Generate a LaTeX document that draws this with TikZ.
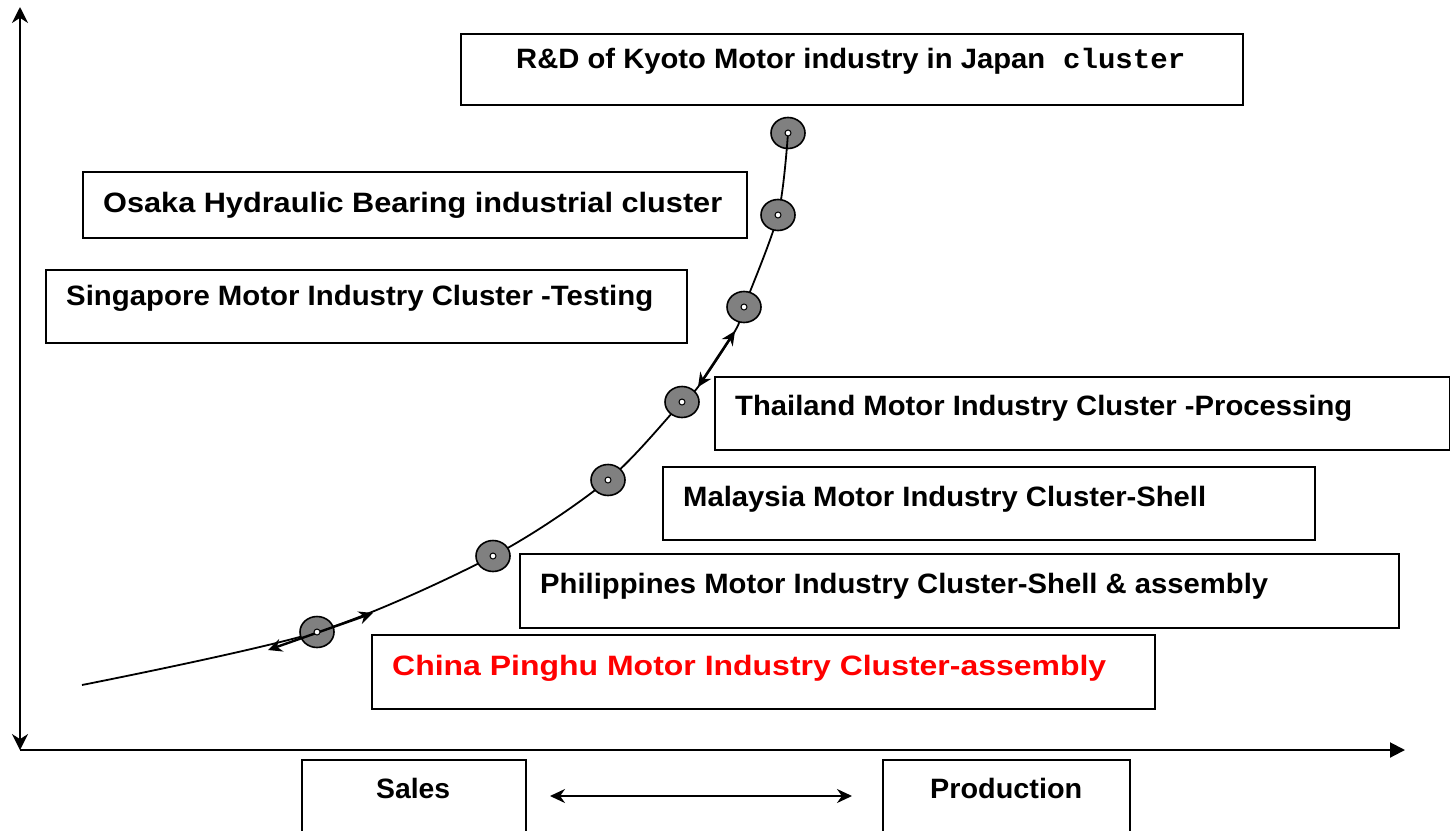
\documentclass[tikz,border=0pt]{standalone}
\usepackage{fontspec}
\setmainfont{Liberation Sans}
\newfontfamily\mymono{Liberation Mono}
\usepackage{graphicx}
\usetikzlibrary{arrows.meta,calc,shapes.geometric}
\begin{document}
\begin{tikzpicture}[x=1pt,y=-1pt,
  box/.style={draw,line width=2pt,rectangle,inner sep=0pt,anchor=north west},
  lbl/.style={anchor=base west,inner sep=0pt,font=\fontsize{28}{32}\selectfont\bfseries},
  dot/.style={ellipse,draw,line width=1.6pt,fill=gray,minimum width=34pt,minimum height=31pt,inner sep=0pt},
  hole/.style={circle,draw,fill=white,line width=1pt,minimum size=6pt,inner sep=0pt},
  axis/.style={line width=2pt},
  flow/.style={line width=2.4pt,{Stealth[length=14pt,width=13pt]}-{Stealth[length=14pt,width=13pt]}}]
\useasboundingbox (0,0) rectangle (1450,830);
\clip (0,0) rectangle (1450,830);
% axes
\coordinate (O) at (20,750);
\coordinate (ytop) at (20,7);
\coordinate (xend) at (1405,750);
\draw[axis,{Stealth[length=16pt,width=16pt]}-{Stealth[length=16pt,width=16pt]}] (O) -- (ytop);
\draw[axis,-{Triangle[length=15pt,width=15pt]}] (O) -- (xend);
% boxes
\node[box,minimum width=782pt,minimum height=71pt] (rd) at (460,33) {};
\node[box,minimum width=664pt,minimum height=66pt] (osaka) at (82,171) {};
\node[box,minimum width=641pt,minimum height=73pt] (sing) at (45,269) {};
\node[box,minimum width=735pt,minimum height=73pt] (thai) at (714,376) {};
\node[box,minimum width=652pt,minimum height=73pt] (malay) at (662,466) {};
\node[box,minimum width=879pt,minimum height=74pt] (phil) at (519,553) {};
\node[box,minimum width=783pt,minimum height=74pt] (china) at (371,634) {};
\node[box,minimum width=224pt,minimum height=90pt] (sales) at (301,759) {};
\node[box,minimum width=247pt,minimum height=90pt] (prod) at (882,759) {};
% labels
\node[lbl] (trd) at (516,68) {\resizebox{529pt}{\height}{R\&D of Kyoto Motor industry in Japan}};
\node[lbl] (trd2) at (1063,68) {\resizebox{122pt}{\height}{\mymono\bfseries cluster}};
\node[lbl] (tosaka) at (103,212) {\resizebox{619pt}{\height}{Osaka Hydraulic Bearing industrial cluster}};
\node[lbl] (tsing) at (66,305) {\resizebox{587pt}{\height}{Singapore Motor Industry Cluster -Testing}};
\node[lbl] (tthai) at (735,415) {\resizebox{617pt}{\height}{Thailand Motor Industry Cluster -Processing}};
\node[lbl] (tmalay) at (683,506) {\resizebox{523pt}{\height}{Malaysia Motor Industry Cluster-Shell}};
\node[lbl] (tphil) at (540,593) {\resizebox{728pt}{\height}{Philippines Motor Industry Cluster-Shell \& assembly}};
\node[lbl,text=red] (tchina) at (392,675) {\resizebox{714pt}{\height}{China Pinghu Motor Industry Cluster-assembly}};
\node[lbl] (tsales) at (376,798) {\resizebox{74pt}{\height}{Sales}};
\node[lbl] (tprod) at (930,798) {\resizebox{152pt}{\height}{Production}};
% sales <-> production
\coordinate (sp1) at (550,796);
\coordinate (sp2) at (852,796);
\draw[line width=2pt,{Stealth[length=15pt,width=14pt]}-{Stealth[length=15pt,width=14pt]}] (sp1) -- (sp2);
% curve
\node[dot] (e7) at (788,133) {};
\coordinate (s) at (82,685);
\coordinate (c1) at (317,632);
\coordinate (c2) at (493,556);
\coordinate (c3) at (608,480);
\coordinate (c4) at (682,402);
\coordinate (c5) at (744,307);
\coordinate (c6) at (778,215);
\coordinate (a1) at (268,650);
\coordinate (a2) at (373,613);
\coordinate (a3) at (698,387);
\coordinate (a4) at (735,331);
\draw[line width=1.8pt] plot[smooth,tension=0.5] coordinates {(s) (c1) (c2) (c3) (c4) (a3) (a4) (c5) (c6) (e7.center)};
\foreach \i in {1,...,6} {\node[dot] (e\i) at (c\i) {};}
% flow arrows
\draw[flow] (a1) -- (a2);
\draw[flow] (a3) -- (a4);
\foreach \i in {1,...,7} {\node[hole] at (e\i.center) {};}
\end{tikzpicture}
\end{document}
